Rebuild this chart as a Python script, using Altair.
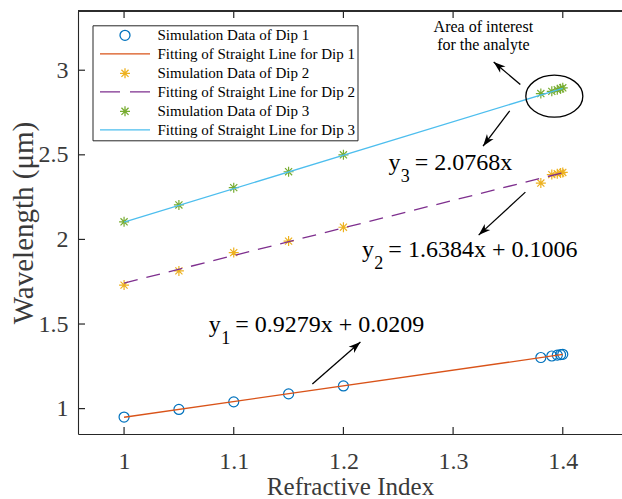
import math
import altair as alt
import pandas as pd

SERIF = "Liberation Serif"
W, H = 544, 423
XDOM = [0.958, 1.454]
YDOM = [0.85, 3.35]
PXX = W / (XDOM[1] - XDOM[0])
PXY = H / (YDOM[1] - YDOM[0])

# ---------------- data ----------------
ri = [1.0, 1.05, 1.1, 1.15, 1.2, 1.38, 1.39, 1.395, 1.398, 1.4]
dip1 = [0.95, 0.995, 1.04, 1.087, 1.134, 1.302, 1.311, 1.316, 1.319, 1.321]
dip2 = [1.73, 1.814, 1.922, 1.99, 2.072, 2.333, 2.383, 2.388, 2.392, 2.396]
dip3 = [2.104, 2.204, 2.306, 2.4, 2.5, 2.862, 2.875, 2.884, 2.89, 2.896]

fit_x = [1.0, 1.4]
fit1 = [0.949, 1.32]
fit2 = [1.742, 2.394]
fit3 = [2.102, 2.893]

labels = [
    "Simulation Data of Dip 1",
    "Fitting of Straight Line for Dip 1",
    "Simulation Data of Dip 2",
    "Fitting of Straight Line for Dip 2",
    "Simulation Data of Dip 3",
    "Fitting of Straight Line for Dip 3",
]
colors = ["#0072BD", "#D95319", "#EDB120", "#7E2F8E", "#77AC30", "#4DBEEE"]

x_ticks = [1.0, 1.1, 1.2, 1.3, 1.4]
y_ticks = [1.0, 1.5, 2.0, 2.5, 3.0]

eq_sub = ["1", "2", "3"]
eq_rest = ["= 0.9279x + 0.0209", "= 1.6384x + 0.1006", "= 2.0768x"]
note_text = "Area of interest\nfor the analyte"

# ---------------- shapes ----------------
STAR = "M-1,0L1,0M0,-1L0,1M-0.71,-0.71L0.71,0.71M-0.71,0.71L0.71,-0.71"
LINE = "M-5,0L5,0"
DASH = "M-5,0L-1,0M1,0L5,0"
shapes = ["circle", LINE, STAR, DASH, STAR, LINE]
HEAD = "M0,0L0.55,1.6L0,1.15L-0.55,1.6Z"
ELLIPSE = "M1,0A1,0.737 0 1,1 -1,0A1,0.737 0 1,1 1,0Z"

# ---------------- tables ----------------
sim_rows = []
for lab, vals in [(labels[0], dip1), (labels[2], dip2), (labels[4], dip3)]:
    for xv, yv in zip(ri, vals):
        sim_rows.append({"ri": xv, "wl": yv, "series": lab})
sim = pd.DataFrame(sim_rows)

fit_rows = []
for lab, vals in [(labels[1], fit1), (labels[3], fit2), (labels[5], fit3)]:
    for xv, yv in zip(fit_x, vals):
        fit_rows.append({"ri": xv, "wl": yv, "series": lab})
fits = pd.DataFrame(fit_rows)
solid = fits[fits.series != labels[3]]
dashed = fits[fits.series == labels[3]]

# annotation placement (data coordinates)
eq = pd.DataFrame({
    "x": [1.0773, 1.217, 1.241],
    "y": [1.4542, 1.8984, 2.409],
    "sub": eq_sub,
    "rest": eq_rest,
})
note = pd.DataFrame({"x": [1.3276], "y": [3.2245], "t": [note_text]})
arrows = pd.DataFrame({
    "x": [1.3613, 1.3516, 1.3659, 1.1717],
    "y": [2.9156, 2.7596, 2.2794, 1.1453],
    "x2": [1.3370, 1.3273, 1.3233, 1.2155],
    "y2": [3.0490, 2.5511, 2.0254, 1.3934],
})
arrows["angle"] = [
    math.degrees(math.atan2((r.x2 - r.x) * PXX, (r.y2 - r.y) * PXY)) % 360
    for r in arrows.itertuples()
]
ell = pd.DataFrame({"x": [1.3923], "y": [2.8464]})
xt = pd.DataFrame({"v": x_ticks})
yt = pd.DataFrame({"v": y_ticks})

# ---------------- encodings ----------------
AX = dict(grid=False, ticks=False, tickSize=0, domainColor="#262626", domainWidth=1.1,
          labelFont=SERIF, labelFontSize=24, labelColor="#3a3a3a", format="~g",
          titleFont=SERIF, titleColor="#3a3a3a", titleFontWeight="normal")
xaxis = alt.Axis(values=x_ticks, title="Refractive Index", labelPadding=15,
                 titlePadding=1, titleFontSize=25, **AX)
yaxis = alt.Axis(values=y_ticks, title="Wavelength (μm)", labelPadding=10,
                 titlePadding=0, titleFontSize=29, **AX)
xs = alt.Scale(domain=XDOM, nice=False, zero=False)
ys = alt.Scale(domain=YDOM, nice=False, zero=False)


def X(f):
    return alt.X(f, type="quantitative", scale=xs, axis=xaxis)


def Y(f):
    return alt.Y(f, type="quantitative", scale=ys, axis=yaxis)


legend = alt.Legend(orient="none", legendX=14.5, legendY=14.3, title=None,
                    labelFont=SERIF, labelFontSize=15, labelColor="black", labelLimit=0,
                    symbolSize=100, symbolStrokeWidth=1.3, symbolOffset=22.5,
                    labelOffset=25, padding=2.5, rowPadding=2.5,
                    strokeColor="#262626", fillColor="white")
color = alt.Color("series:N", scale=alt.Scale(domain=labels, range=colors), legend=legend)
shape = alt.Shape("series:N", scale=alt.Scale(domain=labels, range=shapes), legend=legend)

points = alt.Chart(sim).mark_point(filled=False, size=100, strokeWidth=1.2, opacity=1).encode(
    x=X("ri"), y=Y("wl"), color=color, shape=shape)
lines = alt.Chart(solid).mark_line(strokeWidth=1.3).encode(x=X("ri"), y=Y("wl"), color=color)
dline = alt.Chart(dashed).mark_line(strokeWidth=1.3, strokeDash=[14, 9]).encode(
    x=X("ri"), y=Y("wl"), color=color)

tcol = "#262626"
top_frame = alt.Chart(xt).mark_rule(color=tcol, strokeWidth=1.1).encode(
    x=alt.value(0), x2=alt.value(W), y=alt.value(0))
tick_b = alt.Chart(xt).mark_tick(color=tcol, thickness=1.2, size=7, opacity=1).encode(
    x=X("v"), y=alt.value(H - 3.5))
tick_t = alt.Chart(xt).mark_tick(color=tcol, thickness=1.2, size=7, opacity=1).encode(
    x=X("v"), y=alt.value(3.5))
tick_l = alt.Chart(yt).mark_tick(color=tcol, thickness=1.2, size=7, opacity=1).encode(
    y=Y("v"), x=alt.value(3.5))

eq_lead = alt.Chart(eq).mark_text(align="left", baseline="alphabetic", font=SERIF,
                                  fontSize=24, color="black").encode(
    x=X("x"), y=Y("y"), text=alt.value("y"))
eq_sub_l = alt.Chart(eq).mark_text(align="left", baseline="alphabetic", font=SERIF,
                                   fontSize=18, color="black", dx=12.3, dy=12).encode(
    x=X("x"), y=Y("y"), text="sub:N")
eq_rest_l = alt.Chart(eq).mark_text(align="left", baseline="alphabetic", font=SERIF,
                                    fontSize=24, color="black", dx=26.3).encode(
    x=X("x"), y=Y("y"), text="rest:N")
note_l = alt.Chart(note).mark_text(align="center", baseline="alphabetic", font=SERIF,
                                   fontSize=16, lineHeight=18, lineBreak="\n",
                                   color="black").encode(
    x=X("x"), y=Y("y"), text="t:N")

arrow_line = alt.Chart(arrows).mark_rule(color="black", strokeWidth=1.3).encode(
    x=X("x"), y=Y("y"), x2="x2", y2="y2")
arrow_head = alt.Chart(arrows).mark_point(shape=HEAD, filled=True, color="black",
                                          size=225, opacity=1).encode(
    x=X("x2"), y=Y("y2"), angle=alt.Angle("angle:Q", scale=None))
ellipse = alt.Chart(ell).mark_point(shape=ELLIPSE, filled=False, color="black",
                                    size=3249, strokeWidth=1.3, opacity=1).encode(
    x=X("x"), y=Y("y"))

chart = alt.layer(
    points, lines, dline, top_frame, tick_b, tick_t, tick_l,
    eq_lead, eq_sub_l, eq_rest_l, note_l, arrow_line, arrow_head, ellipse,
).properties(
    width=W, height=H, autosize="none",
    padding={"left": 78, "top": 11, "right": 0, "bottom": 65},
    background="white",
).configure_view(stroke=None)

chart.save("out.html", embed_options={"renderer": "svg", "actions": False})
